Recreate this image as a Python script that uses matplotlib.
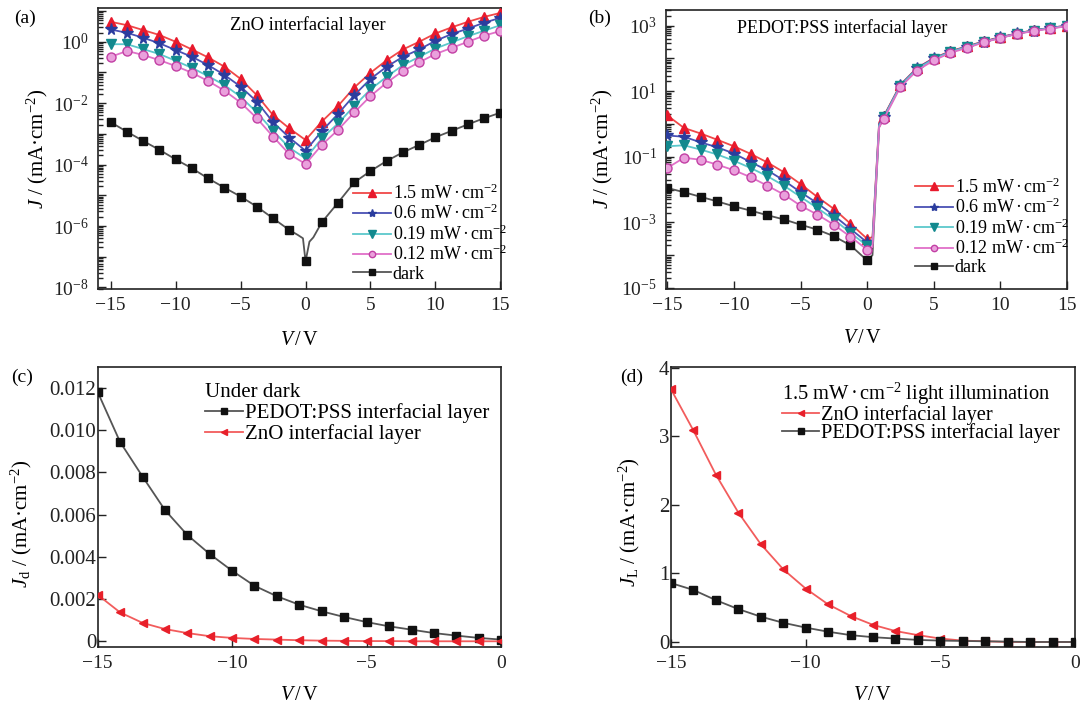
import numpy as np
import matplotlib
matplotlib.use("Agg")
import matplotlib.pyplot as plt
from matplotlib.ticker import LogLocator, FuncFormatter, NullFormatter, FixedLocator

plt.rcParams['font.family'] = ['Liberation Serif', 'DejaVu Serif']
plt.rcParams['mathtext.fontset'] = 'custom'
plt.rcParams['mathtext.rm'] = 'Liberation Serif'
plt.rcParams['mathtext.it'] = 'Liberation Serif:italic'
plt.rcParams['axes.linewidth'] = 1.2

# ---- data (J values as log10) ----
V_ab = [-15, -13.75, -12.5, -11.25, -10, -8.75, -7.5, -6.25, -5, -3.75, -2.5, -1.25,
        0, 1.25, 2.5, 3.75, 5, 6.25, 7.5, 8.75, 10, 11.25, 12.5, 13.75, 15]

# (a) ZnO interfacial layer
a_15 = [0.65, 0.54, 0.38, 0.22, 0.0, -0.25, -0.51, -0.81, -1.21, -1.74, -2.39, -2.82,
        -3.2, -2.6, -2.09, -1.49, -1.01, -0.6, -0.25, 0.0, 0.27, 0.47, 0.65, 0.81, 0.94]
a_06 = [0.40, 0.29, 0.13, -0.05, -0.27, -0.49, -0.76, -1.08, -1.46, -1.95, -2.62, -3.12,
        -3.55, -2.91, -2.35, -1.74, -1.21, -0.81, -0.49, -0.25, 0.03, 0.25, 0.43, 0.62, 0.78]
a_019 = [-0.08, -0.08, -0.24, -0.40, -0.62, -0.85, -1.12, -1.41, -1.79, -2.30, -2.90, -3.45,
         -3.80, -3.15, -2.66, -2.09, -1.55, -1.14, -0.76, -0.49, -0.22, -0.02, 0.18, 0.36, 0.54]
a_012 = [-0.49, -0.30, -0.43, -0.60, -0.79, -1.01, -1.28, -1.59, -1.98, -2.49, -3.09, -3.66,
         -3.98, -3.36, -2.87, -2.30, -1.77, -1.33, -0.95, -0.67, -0.40, -0.20, 0.0, 0.20, 0.35]
# dark curve has a few extra (unmarked) readings around 0 V
V_a_dark = [-15, -13.75, -12.5, -11.25, -10, -8.75, -7.5, -6.25, -5, -3.75, -2.5, -1.25,
            -0.6, -0.2, 0, 0.3, 0.6, 1.25, 2.5, 3.75, 5, 6.25, 7.5, 8.75, 10, 11.25,
            12.5, 13.75, 15]
a_dark = [-2.62, -2.93, -3.23, -3.52, -3.83, -4.12, -4.45, -4.75, -5.04, -5.37, -5.75, -6.13,
          -6.29, -6.40, -7.15, -6.51, -6.37, -5.88, -5.24, -4.58, -4.21, -3.88, -3.60, -3.36,
          -3.11, -2.90, -2.69, -2.49, -2.31]
a_dark_marks = [0, 1, 2, 3, 4, 5, 6, 7, 8, 9, 10, 11, 14, 17, 18, 19, 20, 21, 22, 23,
                24, 25, 26, 27, 28]

# (b) PEDOT:PSS interfacial layer (extra unmarked readings at 0.4 V and 0.9 V)
V_b = [-15, -13.75, -12.5, -11.25, -10, -8.75, -7.5, -6.25, -5, -3.75, -2.5, -1.25,
       0, 0.4, 0.9, 1.25, 2.5, 3.75, 5, 6.25, 7.5, 8.75, 10, 11.25, 12.5, 13.75, 15]
b_marks = [i for i in range(27) if i not in (13, 14)]
b_15 = [0.26, -0.12, -0.29, -0.48, -0.68, -0.91, -1.17, -1.47, -1.83, -2.22, -2.59, -3.04,
        -3.50, -3.45, 0.05, 0.24, 1.20, 1.71, 2.01, 2.22, 2.37, 2.52, 2.65, 2.76, 2.86, 2.93, 3.0]
b_06 = [-0.35, -0.39, -0.56, -0.71, -0.90, -1.16, -1.41, -1.72, -2.08, -2.41, -2.79, -3.20,
        -3.61, -3.55, 0.0, 0.22, 1.19, 1.70, 2.00, 2.21, 2.36, 2.51, 2.64, 2.76, 2.85, 2.93, 3.0]
b_019 = [-0.68, -0.65, -0.78, -0.93, -1.12, -1.34, -1.59, -1.88, -2.22, -2.56, -2.91, -3.32,
         -3.71, -3.65, -0.05, 0.20, 1.17, 1.68, 1.98, 2.20, 2.35, 2.50, 2.63, 2.75, 2.85, 2.92, 2.99]
b_012 = [-1.34, -1.03, -1.09, -1.24, -1.41, -1.62, -1.88, -2.15, -2.49, -2.76, -3.07, -3.44,
         -3.83, -3.75, -0.1, 0.15, 1.13, 1.63, 1.94, 2.17, 2.32, 2.49, 2.62, 2.75, 2.83, 2.91, 2.98]
b_dark = [-1.95, -2.08, -2.22, -2.36, -2.51, -2.64, -2.78, -2.91, -3.07, -3.22, -3.42, -3.70,
          -4.16, -4.0, -0.1, 0.2, 1.17, 1.68, 1.98, 2.20, 2.35, 2.50, 2.63, 2.75, 2.85, 2.92, 2.99]

# (c), (d) linear scale, negative bias only
V_cd = [-15, -14.17, -13.33, -12.5, -11.67, -10.83, -10, -9.17, -8.33, -7.5, -6.67,
        -5.83, -5, -4.17, -3.33, -2.5, -1.67, -0.83, 0]
c_pedot = [0.01181, 0.00945, 0.00780, 0.00622, 0.00504, 0.00413, 0.00334, 0.00263, 0.00213,
           0.00173, 0.00142, 0.00115, 0.00091, 0.00071, 0.00055, 0.00039, 0.00027, 0.00016, 0.00008]
c_zno = [0.00220, 0.00137, 0.00087, 0.00058, 0.00039, 0.00024, 0.00016, 0.00011, 0.00008,
         0.00005, 0.00003, 0.00002, 0.00001, 0.00001, 0, 0, 0, 0, 0]
d_zno = [3.69, 3.09, 2.44, 1.89, 1.43, 1.06, 0.78, 0.55, 0.38, 0.25, 0.16, 0.10, 0.05,
         0.02, 0.01, 0, 0, 0, 0]
d_pedot = [0.86, 0.76, 0.61, 0.48, 0.37, 0.28, 0.21, 0.15, 0.10, 0.07, 0.05, 0.03, 0.02,
           0.015, 0.01, 0.005, 0, 0, 0]

DOT = r'$\,$·$\,$'
labels_ab = ['1.5 mW' + DOT + r'cm$^{-2}$', '0.6 mW' + DOT + r'cm$^{-2}$',
             '0.19 mW' + DOT + r'cm$^{-2}$', '0.12 mW' + DOT + r'cm$^{-2}$', 'dark']

# style: (line colour, marker, marker colour, marker face)
styles = [('#f04848', '^', '#e8192c', '#e8192c'),
          ('#4a50b4', '*', '#2b3d9e', '#2b3d9e'),
          ('#5cc8cc', 'v', '#12898e', '#12898e'),
          ('#e070c8', 'o', '#c23fa4', '#eaa0dc'),
          ('#555555', 's', '#111111', '#111111')]
msizes = [7.5, 8.5, 7.5, 6.5, 6]

fig = plt.figure(figsize=(10.81, 7.06), dpi=100)
ax_a = fig.add_axes([0.0904, 0.5907, 0.3731, 0.3980])
ax_b = fig.add_axes([0.6161, 0.5907, 0.3709, 0.3958])
ax_c = fig.add_axes([0.0904, 0.0836, 0.3731, 0.3966])
ax_d = fig.add_axes([0.6207, 0.0836, 0.3738, 0.3966])


def style_ticks(ax, ypad):
    ax.tick_params(which='both', direction='in', top=False, right=False, labelsize=14,
                   colors='#222222')
    ax.tick_params(which='major', length=6, width=1)
    ax.tick_params(which='minor', length=3.5, width=1)
    ax.tick_params(axis='x', pad=6)
    ax.tick_params(axis='y', pad=ypad)
    for s in ax.spines.values():
        s.set_color('#222222')


def log_axis(ax, labelled):
    ax.set_yscale('log')
    ax.yaxis.set_major_locator(LogLocator(base=10, numticks=20))
    ax.yaxis.set_minor_locator(LogLocator(base=10, subs=np.arange(2, 10), numticks=50))
    ax.yaxis.set_minor_formatter(NullFormatter())

    def fmt(v, pos):
        e = int(round(np.log10(v)))
        return r'10$^{%d}$' % e if e in labelled else ''
    ax.yaxis.set_major_formatter(FuncFormatter(fmt))


leg_ab = dict(loc='upper left', frameon=False, fontsize=13, handlelength=2.1,
              handletextpad=0.1, labelspacing=0.06, borderpad=0, borderaxespad=0,
              markerscale=0.7)

# ---- (a) ----
series_a = [a_15, a_06, a_019, a_012]
for i, ys in enumerate(series_a):
    lc, mk, mc, mf = styles[i]
    ax_a.plot(V_ab, 10 ** np.array(ys), color=lc, lw=1.3, marker=mk, ms=msizes[i],
              mec=mc, mfc=mf, label=labels_ab[i], zorder=3 + i * 0.1)
lc, mk, mc, mf = styles[4]
ax_a.plot(V_a_dark, 10 ** np.array(a_dark), color=lc, lw=1.3, marker=mk, ms=msizes[4],
          mec=mc, mfc=mf, markevery=a_dark_marks, label='dark', zorder=3)
log_axis(ax_a, [0, -2, -4, -6, -8])
ax_a.set_ylim(10 ** -8.05, 10 ** 1.1)
ax_a.set_xlim(-16, 15.05)
ax_a.set_xticks([-15, -10, -5, 0, 5, 10, 15])
style_ticks(ax_a, 6.5)
ax_a.text(0.52, 0.94, 'ZnO interfacial layer', transform=ax_a.transAxes, ha='center',
          va='center', fontsize=13.3)
ax_a.legend(bbox_to_anchor=(0.633, 0.375), **leg_ab)

# ---- (b) ----
series_b = [b_15, b_06, b_019, b_012]
ax_b.plot(V_b, 10 ** np.array(b_dark), color=styles[4][0], lw=1.3, marker='s', ms=msizes[4],
          mec=styles[4][2], mfc=styles[4][3], markevery=b_marks, label='dark', zorder=2)
for i, ys in enumerate(series_b):
    lc, mk, mc, mf = styles[i]
    ax_b.plot(V_b, 10 ** np.array(ys), color=lc, lw=1.3, marker=mk, ms=msizes[i],
              mec=mc, mfc=mf, markevery=b_marks, label=labels_ab[i], zorder=3 + i * 0.1)
log_axis(ax_b, [3, 1, -1, -3, -5])
ax_b.set_ylim(10 ** -5.03, 10 ** 3.49)
ax_b.set_xlim(-15.1, 15)
ax_b.set_xticks([-15, -10, -5, 0, 5, 10, 15])
style_ticks(ax_b, 6.5)
ax_b.text(0.44, 0.935, 'PEDOT:PSS interfacial layer', transform=ax_b.transAxes,
          ha='center', va='center', fontsize=13)
h, l = ax_b.get_legend_handles_labels()
order = [1, 2, 3, 4, 0]
ax_b.legend([h[k] for k in order], [l[k] for k in order], bbox_to_anchor=(0.621, 0.40),
            **leg_ab)

leg_cd = dict(loc='upper left', frameon=False, fontsize=15, title_fontsize=15,
              alignment='left', handlelength=1.8, handletextpad=0.1,
              borderpad=0, borderaxespad=0, markerscale=0.75)

# ---- (c) ----
ax_c.plot(V_cd, c_pedot, color='#555555', lw=1.3, marker='s', ms=5.5, mec='#111111',
          mfc='#111111', label='PEDOT:PSS interfacial layer', zorder=3)
ax_c.plot(V_cd, c_zno, color='#f25c5c', lw=1.3, marker='<', ms=6, mec='#e8202a',
          mfc='#e8202a', label='ZnO interfacial layer', zorder=3)
ax_c.set_xlim(-15, 0)
ax_c.set_ylim(-0.00027, 0.013)
ax_c.set_xticks([-15, -10, -5, 0])
ax_c.yaxis.set_major_locator(FixedLocator([0, 0.002, 0.004, 0.006, 0.008, 0.010, 0.012]))
ax_c.yaxis.set_major_formatter(FuncFormatter(lambda v, p: '0' if abs(v) < 1e-9 else '%.3f' % v))
style_ticks(ax_c, 1)
ax_c.tick_params(axis='y', labelsize=15)
ax_c.legend(bbox_to_anchor=(0.266, 0.942), title='Under dark', labelspacing=0.045, **leg_cd)

# ---- (d) ----
ax_d.plot(V_cd, d_zno, color='#f25c5c', lw=1.3, marker='<', ms=6, mec='#e8202a',
          mfc='#e8202a', label='ZnO interfacial layer', zorder=3)
ax_d.plot(V_cd, d_pedot, color='#555555', lw=1.3, marker='s', ms=5.5, mec='#111111',
          mfc='#111111', label='PEDOT:PSS interfacial layer', zorder=3)
ax_d.set_xlim(-15, 0)
ax_d.set_ylim(-0.073, 4.015)
ax_d.set_xticks([-15, -10, -5, 0])
ax_d.set_yticks([0, 1, 2, 3, 4])
style_ticks(ax_d, 1)
ax_d.tick_params(axis='y', labelsize=15)
leg_d = dict(leg_cd, fontsize=14.8, title_fontsize=14.8)
ax_d.legend(bbox_to_anchor=(0.275, 0.95), labelspacing=-0.1,
            title='1.5 mW' + DOT + r'cm$^{-2}$ light illumination', **leg_d)

# ---- axis labels ----
for ax, xl in [(ax_a, (0.50, -0.15)), (ax_b, (0.49, -0.145)), (ax_c, (0.50, -0.14)),
               (ax_d, (0.50, -0.14))]:
    ax.set_xlabel(r'$V\,$/$\,$V', fontsize=14.5)
    ax.xaxis.set_label_coords(*xl)

ax_a.set_ylabel(r'$J$ / (mA·cm$^{-2}$)', fontsize=15)
ax_a.yaxis.set_label_coords(-0.118, 0.5)
ax_b.set_ylabel(r'$J$ / (mA·cm$^{-2}$)', fontsize=15)
ax_b.yaxis.set_label_coords(-0.127, 0.5)
ax_c.set_ylabel(r'$J_{\rm d}$ / (mA·cm$^{-2}$)', fontsize=15)
ax_c.yaxis.set_label_coords(-0.158, 0.44)
ax_d.set_ylabel(r'$J_{\rm L}$ / (mA·cm$^{-2}$)', fontsize=15)
ax_d.yaxis.set_label_coords(-0.072, 0.447)

# panel tags
for tag, x, y in [('(a)', 25, 18), ('(b)', 600, 18), ('(c)', 22, 377), ('(d)', 632, 377)]:
    fig.text(x / 1081, 1 - y / 706, tag, fontsize=14, ha='center', va='center')

fig.savefig('out.png', dpi=100)
